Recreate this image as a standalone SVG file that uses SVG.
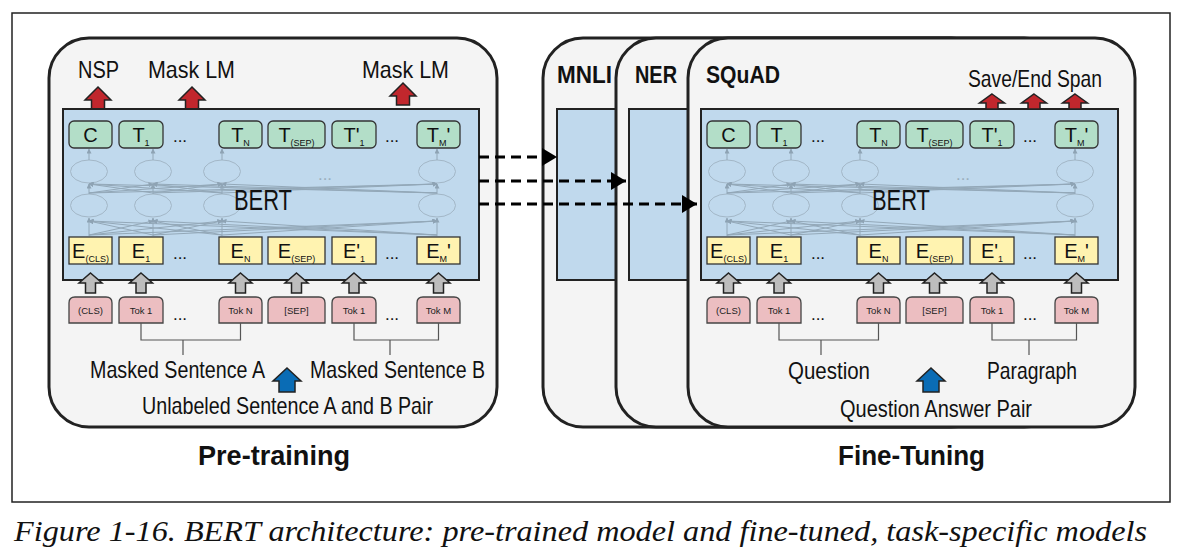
<svg xmlns="http://www.w3.org/2000/svg" xmlns:xlink="http://www.w3.org/1999/xlink" width="1184" height="560" viewBox="0 0 1184 560">
<style>
.lbl{font-family:"Liberation Sans",Arial,sans-serif;fill:#111}
.bold{font-weight:bold}
.big{font-family:"Liberation Sans",Arial,sans-serif;font-size:20px;fill:#111;text-anchor:middle}
.sub{font-size:9px}
.tok{font-family:"Liberation Sans",Arial,sans-serif;font-size:9.5px;fill:#222;text-anchor:middle}
.dots{font-family:"Liberation Sans",Arial,sans-serif;font-size:17px;fill:#111;text-anchor:middle}
.panel{fill:#f4f4f4;stroke:#222;stroke-width:3}
.bbox{fill:#c0d9ed;stroke:#222;stroke-width:2}
.g{fill:#b3dec8;stroke:#333;stroke-width:1.3}
.y{fill:#fff3b0;stroke:#333;stroke-width:1.3}
.p{fill:#ecbec1;stroke:#444;stroke-width:1.3}
.ell{fill:none;stroke:#a3b7c7;stroke-width:1}
.net{stroke:#93a8b8;stroke-width:1;marker-end:url(#sa)}
.brk{fill:none;stroke:#555;stroke-width:1.2}
.dash{stroke:#000;stroke-width:3;stroke-dasharray:10 6;marker-end:url(#da)}
.ga{fill:#bdbdbd;stroke:#222;stroke-width:1.5}
.ra{fill:#c1272d;stroke:#222;stroke-width:1.5}
.ba{fill:#0a6cb5;stroke:#222;stroke-width:1.5}
</style>
<defs>
<marker id="sa" markerUnits="userSpaceOnUse" markerWidth="5" markerHeight="5" refX="4.5" refY="2.5" orient="auto"><path d="M0,0 L5,2.5 L0,5 Z" fill="#8ea3b4"/></marker>
<marker id="da" markerUnits="userSpaceOnUse" markerWidth="15" markerHeight="18" refX="15" refY="9" orient="auto"><path d="M0,0 L15,9 L0,18 Z" fill="#000"/></marker>
<path id="arrGray" d="M0,0 L11.5,10 L5,10 L5,20 L-5,20 L-5,10 L-11.5,10 Z"/>
<path id="arrRed" d="M0,0 L13,13 L6.5,13 L6.5,22 L-6.5,22 L-6.5,13 L-13,13 Z"/>
<path id="arrRedS" d="M0,0 L12.5,9 L6,9 L6,15 L-6,15 L-6,9 L-12.5,9 Z"/>
<path id="arrBlue" d="M0,0 L14,13 L8,13 L8,24 L-8,24 L-8,13 L-14,13 Z"/>
</defs>
<rect width="1184" height="560" fill="#fff"/>
<rect x="12" y="13" width="1158" height="489" fill="#fff" stroke="#222" stroke-width="1.5"/>

<!-- Pre-training panel -->
<g id="panel-pretrain">
<rect class="panel" x="49" y="38" width="448" height="389" rx="40"/>
<text class="lbl" x="78" y="78" font-size="24" textLength="41" lengthAdjust="spacingAndGlyphs">NSP</text>
<text class="lbl" x="148" y="78" font-size="24" textLength="87" lengthAdjust="spacingAndGlyphs">Mask LM</text>
<text class="lbl" x="362" y="78" font-size="24" textLength="87" lengthAdjust="spacingAndGlyphs">Mask LM</text>
<use href="#arrRed" class="ra" x="98" y="87"/>
<use href="#arrRed" class="ra" x="192" y="87"/>
<use href="#arrRed" class="ra" x="403" y="83"/>
<rect class="bbox" x="63" y="109" width="416" height="171"/>
</g>

<g id="bert-pretrain">
<g id="pt-net">
<ellipse class="ell" cx="89" cy="171.5" rx="18.5" ry="11.5"/>
<ellipse class="ell" cx="153" cy="171.5" rx="18.5" ry="11.5"/>
<ellipse class="ell" cx="222" cy="171.5" rx="18.5" ry="11.5"/>
<ellipse class="ell" cx="437" cy="171.5" rx="18.5" ry="11.5"/>
<ellipse class="ell" cx="89" cy="205.5" rx="18.5" ry="11.5"/>
<ellipse class="ell" cx="153" cy="205.5" rx="18.5" ry="11.5"/>
<ellipse class="ell" cx="222" cy="205.5" rx="18.5" ry="11.5"/>
<ellipse class="ell" cx="437" cy="205.5" rx="18.5" ry="11.5"/>
<line class="net" x1="89" y1="160" x2="89" y2="149"/>
<line class="net" x1="153" y1="160" x2="153" y2="149"/>
<line class="net" x1="222" y1="160" x2="222" y2="149"/>
<line class="net" x1="437" y1="160" x2="437" y2="149"/>
<line class="net" x1="89" y1="194" x2="89" y2="184"/>
<line class="net" x1="153" y1="194" x2="153" y2="184"/>
<line class="net" x1="222" y1="194" x2="222" y2="184"/>
<line class="net" x1="437" y1="194" x2="437" y2="184"/>
<line class="net" x1="89" y1="236" x2="89" y2="218"/>
<line class="net" x1="153" y1="236" x2="153" y2="218"/>
<line class="net" x1="222" y1="236" x2="222" y2="218"/>
<line class="net" x1="437" y1="236" x2="437" y2="218"/>
<line class="net" x1="89" y1="193" x2="153" y2="184"/>
<line class="net" x1="89" y1="193" x2="222" y2="184"/>
<line class="net" x1="89" y1="193" x2="437" y2="184"/>
<line class="net" x1="153" y1="193" x2="89" y2="184"/>
<line class="net" x1="153" y1="193" x2="222" y2="184"/>
<line class="net" x1="153" y1="193" x2="437" y2="184"/>
<line class="net" x1="222" y1="193" x2="89" y2="184"/>
<line class="net" x1="222" y1="193" x2="153" y2="184"/>
<line class="net" x1="222" y1="193" x2="437" y2="184"/>
<line class="net" x1="437" y1="193" x2="89" y2="184"/>
<line class="net" x1="437" y1="193" x2="153" y2="184"/>
<line class="net" x1="437" y1="193" x2="222" y2="184"/>
<line class="net" x1="89" y1="235" x2="153" y2="221"/>
<line class="net" x1="89" y1="235" x2="222" y2="221"/>
<line class="net" x1="89" y1="235" x2="437" y2="221"/>
<line class="net" x1="153" y1="235" x2="89" y2="221"/>
<line class="net" x1="153" y1="235" x2="222" y2="221"/>
<line class="net" x1="153" y1="235" x2="437" y2="221"/>
<line class="net" x1="222" y1="235" x2="89" y2="221"/>
<line class="net" x1="222" y1="235" x2="153" y2="221"/>
<line class="net" x1="222" y1="235" x2="437" y2="221"/>
<line class="net" x1="437" y1="235" x2="89" y2="221"/>
<line class="net" x1="437" y1="235" x2="153" y2="221"/>
<line class="net" x1="437" y1="235" x2="222" y2="221"/>
<text class="dots" x="325" y="180" font-size="13" style="fill:#9aaebd">...</text>
</g>
<text class="lbl" x="234" y="210" font-size="29" textLength="58" lengthAdjust="spacingAndGlyphs">BERT</text>
<g id="pt-t-cls"><rect class="g" x="69" y="121" width="43" height="27" rx="5"/><text class="big" x="90.5" y="142">C</text></g>
<g id="pt-t-1"><rect class="g" x="119" y="121" width="44" height="27" rx="5"/><text class="big" x="141" y="142">T<tspan class="sub" dy="4">1</tspan></text></g>
<text class="dots" x="180" y="142">...</text>
<g id="pt-t-n"><rect class="g" x="219" y="121" width="43" height="27" rx="5"/><text class="big" x="240.5" y="142">T<tspan class="sub" dy="4">N</tspan></text></g>
<g id="pt-t-sep"><rect class="g" x="268" y="121" width="57" height="27" rx="5"/><text class="big" x="296.5" y="142">T<tspan class="sub" dy="4">(SEP)</tspan></text></g>
<g id="pt-t-1b"><rect class="g" x="332" y="121" width="44" height="27" rx="5"/><text class="big" x="354" y="142">T'<tspan class="sub" dy="4">1</tspan></text></g>
<text class="dots" x="392" y="142">...</text>
<g id="pt-t-m"><rect class="g" x="417" y="121" width="43" height="27" rx="5"/><text class="big" x="438.5" y="142">T<tspan class="sub" dy="4">M</tspan><tspan dy="-4">'</tspan></text></g>

<g id="pt-e-cls"><rect class="y" x="69" y="237" width="43" height="27"/><text class="big" x="90.5" y="258">E<tspan class="sub" dy="4">(CLS)</tspan></text></g>
<g id="pt-e-1"><rect class="y" x="119" y="237" width="44" height="27"/><text class="big" x="141" y="258">E<tspan class="sub" dy="4">1</tspan></text></g>
<text class="dots" x="180" y="259">...</text>
<g id="pt-e-n"><rect class="y" x="219" y="237" width="43" height="27"/><text class="big" x="240.5" y="258">E<tspan class="sub" dy="4">N</tspan></text></g>
<g id="pt-e-sep"><rect class="y" x="268" y="237" width="57" height="27"/><text class="big" x="296.5" y="258">E<tspan class="sub" dy="4">(SEP)</tspan></text></g>
<g id="pt-e-1b"><rect class="y" x="332" y="237" width="44" height="27"/><text class="big" x="354" y="258">E'<tspan class="sub" dy="4">1</tspan></text></g>
<text class="dots" x="392" y="259">...</text>
<g id="pt-e-m"><rect class="y" x="417" y="237" width="43" height="27"/><text class="big" x="438.5" y="258">E<tspan class="sub" dy="4">M</tspan><tspan dy="-4">'</tspan></text></g>

<use href="#arrGray" class="ga" x="90.5" y="273"/>
<use href="#arrGray" class="ga" x="141" y="273"/>
<use href="#arrGray" class="ga" x="240.5" y="273"/>
<use href="#arrGray" class="ga" x="296.5" y="273"/>
<use href="#arrGray" class="ga" x="354" y="273"/>
<use href="#arrGray" class="ga" x="438.5" y="273"/>

<g id="pt-tok-cls"><path class="p" d="M69,323 V303 Q69,297 75,297 H106 Q112,297 112,303 V323 Z"/><text class="tok" x="90.5" y="314">(CLS)</text></g>
<g id="pt-tok-1"><path class="p" d="M119,323 V303 Q119,297 125,297 H157 Q163,297 163,303 V323 Z"/><text class="tok" x="141" y="314">Tok 1</text></g>
<text class="dots" x="180" y="320">...</text>
<g id="pt-tok-n"><path class="p" d="M219,323 V303 Q219,297 225,297 H256 Q262,297 262,303 V323 Z"/><text class="tok" x="240.5" y="314">Tok N</text></g>
<g id="pt-tok-sep"><path class="p" d="M268,323 V303 Q268,297 274,297 H319 Q325,297 325,303 V323 Z"/><text class="tok" x="296.5" y="314">[SEP]</text></g>
<g id="pt-tok-1b"><path class="p" d="M332,323 V303 Q332,297 338,297 H370 Q376,297 376,303 V323 Z"/><text class="tok" x="354" y="314">Tok 1</text></g>
<text class="dots" x="392" y="320">...</text>
<g id="pt-tok-m"><path class="p" d="M417,323 V303 Q417,297 423,297 H454 Q460,297 460,303 V323 Z"/><text class="tok" x="438.5" y="314">Tok M</text></g>

<path class="brk" d="M141,323 V340 H240.5 V323 M183,340 V355 M354,323 V340 H438.5 V323 M390,340 V355"/>
<text class="lbl" x="90" y="378" font-size="24" textLength="175" lengthAdjust="spacingAndGlyphs">Masked Sentence A</text>
<text class="lbl" x="310" y="378" font-size="24" textLength="175" lengthAdjust="spacingAndGlyphs">Masked Sentence B</text>
<use href="#arrBlue" class="ba" x="287" y="368"/>
<text class="lbl" x="142" y="414" font-size="24" textLength="291" lengthAdjust="spacingAndGlyphs">Unlabeled Sentence A and B Pair</text>
</g>
<text class="lbl bold" x="198" y="465" font-size="28" textLength="152" lengthAdjust="spacingAndGlyphs">Pre-training</text>

<!-- Fine-tuning panels -->
<g id="panel-mnli">
<rect class="panel" x="543" y="38" width="448" height="389" rx="40"/>
<rect class="bbox" x="557" y="109" width="416" height="171"/>
<text class="lbl bold" x="557" y="83" font-size="24" textLength="55" lengthAdjust="spacingAndGlyphs">MNLI</text>
</g>
<g id="panel-ner">
<rect class="panel" x="616" y="38" width="448" height="389" rx="40"/>
<rect class="bbox" x="629" y="109" width="416" height="171"/>
<text class="lbl bold" x="635" y="83" font-size="24" textLength="42" lengthAdjust="spacingAndGlyphs">NER</text>
</g>
<g id="panel-squad">
<rect class="panel" x="688" y="38" width="447" height="389" rx="40"/>
<rect class="bbox" x="701" y="109" width="417" height="171"/>
<text class="lbl bold" x="706" y="83" font-size="24" textLength="74" lengthAdjust="spacingAndGlyphs">SQuAD</text>
<text class="lbl" x="968" y="87" font-size="24" textLength="134" lengthAdjust="spacingAndGlyphs">Save/End Span</text>
<use href="#arrRedS" class="ra" x="992" y="94"/>
<use href="#arrRedS" class="ra" x="1034" y="94"/>
<use href="#arrRedS" class="ra" x="1075" y="94"/>
</g>

<g id="bert-finetune" transform="translate(638,0)">
<g id="ft-net">
<ellipse class="ell" cx="89" cy="171.5" rx="18.5" ry="11.5"/>
<ellipse class="ell" cx="153" cy="171.5" rx="18.5" ry="11.5"/>
<ellipse class="ell" cx="222" cy="171.5" rx="18.5" ry="11.5"/>
<ellipse class="ell" cx="437" cy="171.5" rx="18.5" ry="11.5"/>
<ellipse class="ell" cx="89" cy="205.5" rx="18.5" ry="11.5"/>
<ellipse class="ell" cx="153" cy="205.5" rx="18.5" ry="11.5"/>
<ellipse class="ell" cx="222" cy="205.5" rx="18.5" ry="11.5"/>
<ellipse class="ell" cx="437" cy="205.5" rx="18.5" ry="11.5"/>
<line class="net" x1="89" y1="160" x2="89" y2="149"/>
<line class="net" x1="153" y1="160" x2="153" y2="149"/>
<line class="net" x1="222" y1="160" x2="222" y2="149"/>
<line class="net" x1="437" y1="160" x2="437" y2="149"/>
<line class="net" x1="89" y1="194" x2="89" y2="184"/>
<line class="net" x1="153" y1="194" x2="153" y2="184"/>
<line class="net" x1="222" y1="194" x2="222" y2="184"/>
<line class="net" x1="437" y1="194" x2="437" y2="184"/>
<line class="net" x1="89" y1="236" x2="89" y2="218"/>
<line class="net" x1="153" y1="236" x2="153" y2="218"/>
<line class="net" x1="222" y1="236" x2="222" y2="218"/>
<line class="net" x1="437" y1="236" x2="437" y2="218"/>
<line class="net" x1="89" y1="193" x2="153" y2="184"/>
<line class="net" x1="89" y1="193" x2="222" y2="184"/>
<line class="net" x1="89" y1="193" x2="437" y2="184"/>
<line class="net" x1="153" y1="193" x2="89" y2="184"/>
<line class="net" x1="153" y1="193" x2="222" y2="184"/>
<line class="net" x1="153" y1="193" x2="437" y2="184"/>
<line class="net" x1="222" y1="193" x2="89" y2="184"/>
<line class="net" x1="222" y1="193" x2="153" y2="184"/>
<line class="net" x1="222" y1="193" x2="437" y2="184"/>
<line class="net" x1="437" y1="193" x2="89" y2="184"/>
<line class="net" x1="437" y1="193" x2="153" y2="184"/>
<line class="net" x1="437" y1="193" x2="222" y2="184"/>
<line class="net" x1="89" y1="235" x2="153" y2="221"/>
<line class="net" x1="89" y1="235" x2="222" y2="221"/>
<line class="net" x1="89" y1="235" x2="437" y2="221"/>
<line class="net" x1="153" y1="235" x2="89" y2="221"/>
<line class="net" x1="153" y1="235" x2="222" y2="221"/>
<line class="net" x1="153" y1="235" x2="437" y2="221"/>
<line class="net" x1="222" y1="235" x2="89" y2="221"/>
<line class="net" x1="222" y1="235" x2="153" y2="221"/>
<line class="net" x1="222" y1="235" x2="437" y2="221"/>
<line class="net" x1="437" y1="235" x2="89" y2="221"/>
<line class="net" x1="437" y1="235" x2="153" y2="221"/>
<line class="net" x1="437" y1="235" x2="222" y2="221"/>
<text class="dots" x="325" y="180" font-size="13" style="fill:#9aaebd">...</text>
</g>
<text class="lbl" x="234" y="210" font-size="29" textLength="58" lengthAdjust="spacingAndGlyphs">BERT</text>
<g id="ft-t-cls"><rect class="g" x="69" y="121" width="43" height="27" rx="5"/><text class="big" x="90.5" y="142">C</text></g>
<g id="ft-t-1"><rect class="g" x="119" y="121" width="44" height="27" rx="5"/><text class="big" x="141" y="142">T<tspan class="sub" dy="4">1</tspan></text></g>
<text class="dots" x="180" y="142">...</text>
<g id="ft-t-n"><rect class="g" x="219" y="121" width="43" height="27" rx="5"/><text class="big" x="240.5" y="142">T<tspan class="sub" dy="4">N</tspan></text></g>
<g id="ft-t-sep"><rect class="g" x="268" y="121" width="57" height="27" rx="5"/><text class="big" x="296.5" y="142">T<tspan class="sub" dy="4">(SEP)</tspan></text></g>
<g id="ft-t-1b"><rect class="g" x="332" y="121" width="44" height="27" rx="5"/><text class="big" x="354" y="142">T'<tspan class="sub" dy="4">1</tspan></text></g>
<text class="dots" x="392" y="142">...</text>
<g id="ft-t-m"><rect class="g" x="417" y="121" width="43" height="27" rx="5"/><text class="big" x="438.5" y="142">T<tspan class="sub" dy="4">M</tspan><tspan dy="-4">'</tspan></text></g>

<g id="ft-e-cls"><rect class="y" x="69" y="237" width="43" height="27"/><text class="big" x="90.5" y="258">E<tspan class="sub" dy="4">(CLS)</tspan></text></g>
<g id="ft-e-1"><rect class="y" x="119" y="237" width="44" height="27"/><text class="big" x="141" y="258">E<tspan class="sub" dy="4">1</tspan></text></g>
<text class="dots" x="180" y="259">...</text>
<g id="ft-e-n"><rect class="y" x="219" y="237" width="43" height="27"/><text class="big" x="240.5" y="258">E<tspan class="sub" dy="4">N</tspan></text></g>
<g id="ft-e-sep"><rect class="y" x="268" y="237" width="57" height="27"/><text class="big" x="296.5" y="258">E<tspan class="sub" dy="4">(SEP)</tspan></text></g>
<g id="ft-e-1b"><rect class="y" x="332" y="237" width="44" height="27"/><text class="big" x="354" y="258">E'<tspan class="sub" dy="4">1</tspan></text></g>
<text class="dots" x="392" y="259">...</text>
<g id="ft-e-m"><rect class="y" x="417" y="237" width="43" height="27"/><text class="big" x="438.5" y="258">E<tspan class="sub" dy="4">M</tspan><tspan dy="-4">'</tspan></text></g>

<use href="#arrGray" class="ga" x="90.5" y="273"/>
<use href="#arrGray" class="ga" x="141" y="273"/>
<use href="#arrGray" class="ga" x="240.5" y="273"/>
<use href="#arrGray" class="ga" x="296.5" y="273"/>
<use href="#arrGray" class="ga" x="354" y="273"/>
<use href="#arrGray" class="ga" x="438.5" y="273"/>

<g id="ft-tok-cls"><path class="p" d="M69,323 V303 Q69,297 75,297 H106 Q112,297 112,303 V323 Z"/><text class="tok" x="90.5" y="314">(CLS)</text></g>
<g id="ft-tok-1"><path class="p" d="M119,323 V303 Q119,297 125,297 H157 Q163,297 163,303 V323 Z"/><text class="tok" x="141" y="314">Tok 1</text></g>
<text class="dots" x="180" y="320">...</text>
<g id="ft-tok-n"><path class="p" d="M219,323 V303 Q219,297 225,297 H256 Q262,297 262,303 V323 Z"/><text class="tok" x="240.5" y="314">Tok N</text></g>
<g id="ft-tok-sep"><path class="p" d="M268,323 V303 Q268,297 274,297 H319 Q325,297 325,303 V323 Z"/><text class="tok" x="296.5" y="314">[SEP]</text></g>
<g id="ft-tok-1b"><path class="p" d="M332,323 V303 Q332,297 338,297 H370 Q376,297 376,303 V323 Z"/><text class="tok" x="354" y="314">Tok 1</text></g>
<text class="dots" x="392" y="320">...</text>
<g id="ft-tok-m"><path class="p" d="M417,323 V303 Q417,297 423,297 H454 Q460,297 460,303 V323 Z"/><text class="tok" x="438.5" y="314">Tok M</text></g>

<path class="brk" d="M141,323 V340 H240.5 V323 M183,340 V355 M354,323 V340 H438.5 V323 M391,340 V355"/>
<text class="lbl" x="150" y="379" font-size="24" textLength="82" lengthAdjust="spacingAndGlyphs">Question</text>
<text class="lbl" x="349" y="379" font-size="24" textLength="90" lengthAdjust="spacingAndGlyphs">Paragraph</text>
<use href="#arrBlue" class="ba" x="293" y="368"/>
<text class="lbl" x="202" y="417" font-size="24" textLength="192" lengthAdjust="spacingAndGlyphs">Question Answer Pair</text>
</g>
<text class="lbl bold" x="838" y="465" font-size="28" textLength="147" lengthAdjust="spacingAndGlyphs">Fine-Tuning</text>

<g id="connectors">
<line class="dash" x1="479" y1="157" x2="557" y2="157"/>
<line class="dash" x1="479" y1="181" x2="626" y2="181"/>
<line class="dash" x1="479" y1="204" x2="697" y2="204"/>
</g>

<text x="14" y="541" font-family="'Liberation Serif','Times New Roman',serif" font-style="italic" font-size="30" fill="#111" textLength="1133" lengthAdjust="spacingAndGlyphs">Figure 1-16. BERT architecture: pre-trained model and fine-tuned, task-specific models</text>
</svg>
